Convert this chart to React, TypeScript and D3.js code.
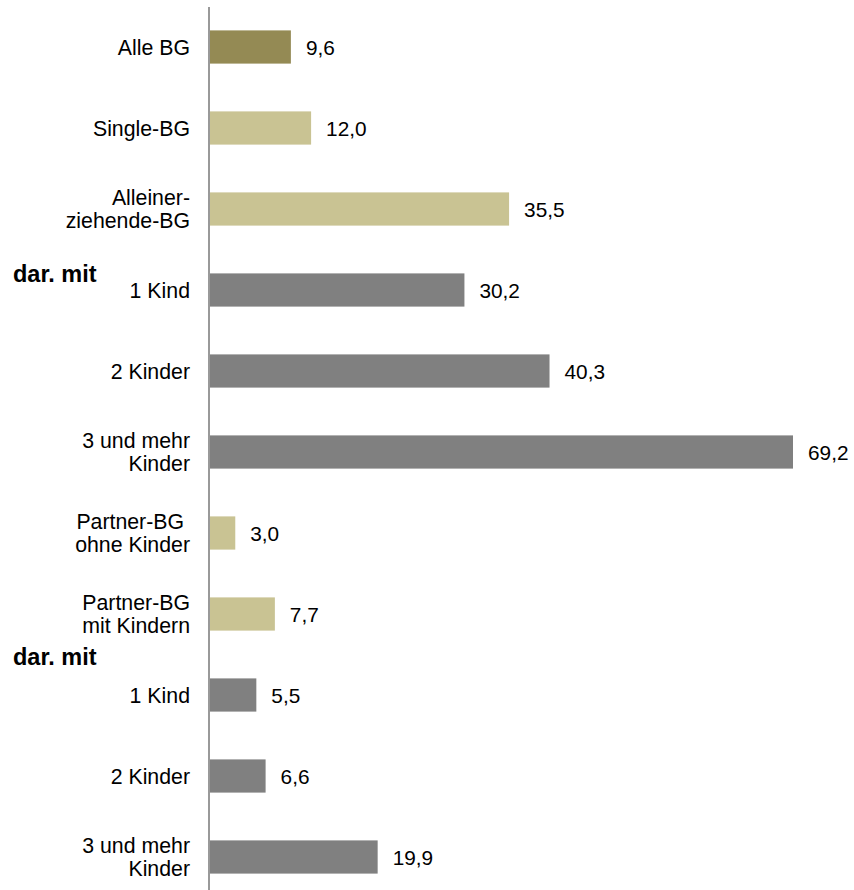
import React from "react";
import * as d3 from "d3";

const categories: string[][] = [
  ["Alle BG"],
  ["Single-BG"],
  ["Alleiner-", "ziehende-BG"],
  ["1 Kind"],
  ["2 Kinder"],
  ["3 und mehr", "Kinder"],
  ["Partner-BG ", "ohne Kinder"],
  ["Partner-BG", "mit Kindern"],
  ["1 Kind"],
  ["2 Kinder"],
  ["3 und mehr", "Kinder"],
];
const values: number[] = [9.6, 12.0, 35.5, 30.2, 40.3, 69.2, 3.0, 7.7, 5.5, 6.6, 19.9];
const groups: string[] = ["all", "main", "main", "sub", "sub", "sub", "main", "main", "sub", "sub", "sub"];
const notes: { index: number; text: string }[] = [
  { index: 3, text: "dar. mit" },
  { index: 8, text: "dar. mit" },
];

const colors: Record<string, string> = {
  all: "#948A54",
  main: "#C9C393",
  sub: "#808080",
};

export default function App() {
  const W = 854;
  const H = 890;
  const x0 = 210;
  const idx = categories.map((_, i) => String(i));
  const y = d3.scaleBand<string>().domain(idx).range([6.5, 897.5]).paddingInner(0.59).paddingOuter(0.295);
  const x = d3.scaleLinear().domain([0, 69.2]).range([x0, 793]);
  const font = "'Liberation Sans', Arial, sans-serif";
  const fs = 21.3;
  return (
    <svg width={W} height={H} style={{ position: "absolute", left: 0, top: 0, background: "#fff" }} fontFamily={font}>
      {values.map((v, i) => {
        const yy = y(String(i))!;
        return (
          <rect key={"b" + i} x={x(0)} y={yy} width={x(v) - x(0)} height={y.bandwidth()} fill={colors[groups[i]]} />
        );
      })}
      {values.map((v, i) => {
        const c = y(String(i))! + y.bandwidth() / 2;
        return (
          <text key={"v" + i} x={x(v) + 15} y={c + 7.5} fontSize={20.8} fill="#000">
            {d3.format(".1f")(v).replace(".", ",")}
          </text>
        );
      })}
      {categories.map((lines, i) => {
        const c = y(String(i))! + y.bandwidth() / 2;
        const start = c + 7.5 - ((lines.length - 1) * 23) / 2;
        return (
          <text key={"c" + i} x={190} textAnchor="end" fontSize={fs} fill="#000" style={{ whiteSpace: "pre" }}>
            {lines.map((l, j) => (
              <tspan key={j} x={190} y={start + j * 23}>
                {l}
              </tspan>
            ))}
          </text>
        );
      })}
      {notes.map((n, k) => {
        const c = y(String(n.index))! + y.bandwidth() / 2;
        const yy = k === 0 ? c - 8 : c - 30;
        return (
          <text key={"n" + k} x={13} y={yy} fontSize={23.5} fontWeight="bold" fill="#000">
            {n.text}
          </text>
        );
      })}
      <line x1={x0 - 1} x2={x0 - 1} y1={7} y2={H} stroke="#999" strokeWidth={2} />
    </svg>
  );
}
